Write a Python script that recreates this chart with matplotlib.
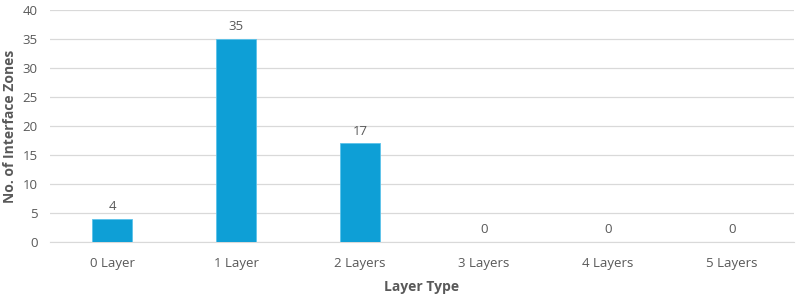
import matplotlib
matplotlib.use("Agg")
import matplotlib.pyplot as plt

categories = ["0 Layer", "1 Layer", "2 Layers", "3 Layers", "4 Layers", "5 Layers"]
values = [4, 35, 17, 0, 0, 0]

plt.rcParams['font.family'] = ['Open Sans', 'DejaVu Sans']
gray = '#595959'

fig = plt.figure(figsize=(8, 2.95), dpi=100)
ax = fig.add_axes([0.0625, 0.18, 0.93, 0.786])
x = list(range(len(categories)))
bars = ax.bar(x, values, width=0.315, color='#0E9FD6', edgecolor='#5CC3EA', linewidth=0.6, zorder=3)
for xi, v in zip(x, values):
    ax.text(xi, v + 1.0, str(v), ha='center', va='bottom', fontsize=9.5, color=gray)

ax.set_xlim(-0.5, len(categories) - 0.5)
ax.set_ylim(0, 40)
ax.set_yticks(range(0, 41, 5))
ax.set_xticks(x)
ax.set_xticklabels(categories)
ax.tick_params(axis='both', length=0, colors=gray, labelsize=9.5)
ax.tick_params(axis='x', pad=11)
ax.tick_params(axis='y', pad=9)
ax.grid(axis='y', color='#D9D9D9', linewidth=0.9, zorder=0)
for s in ['top', 'right', 'left']:
    ax.spines[s].set_visible(False)
ax.spines['bottom'].set_color('#D9D9D9')
ax.set_xlabel('Layer Type', fontsize=10, fontweight='bold', color=gray, labelpad=7)
ax.set_ylabel('No. of Interface Zones', fontsize=10, fontweight='bold', color=gray, labelpad=4)

fig.savefig('out.png', dpi=100)
